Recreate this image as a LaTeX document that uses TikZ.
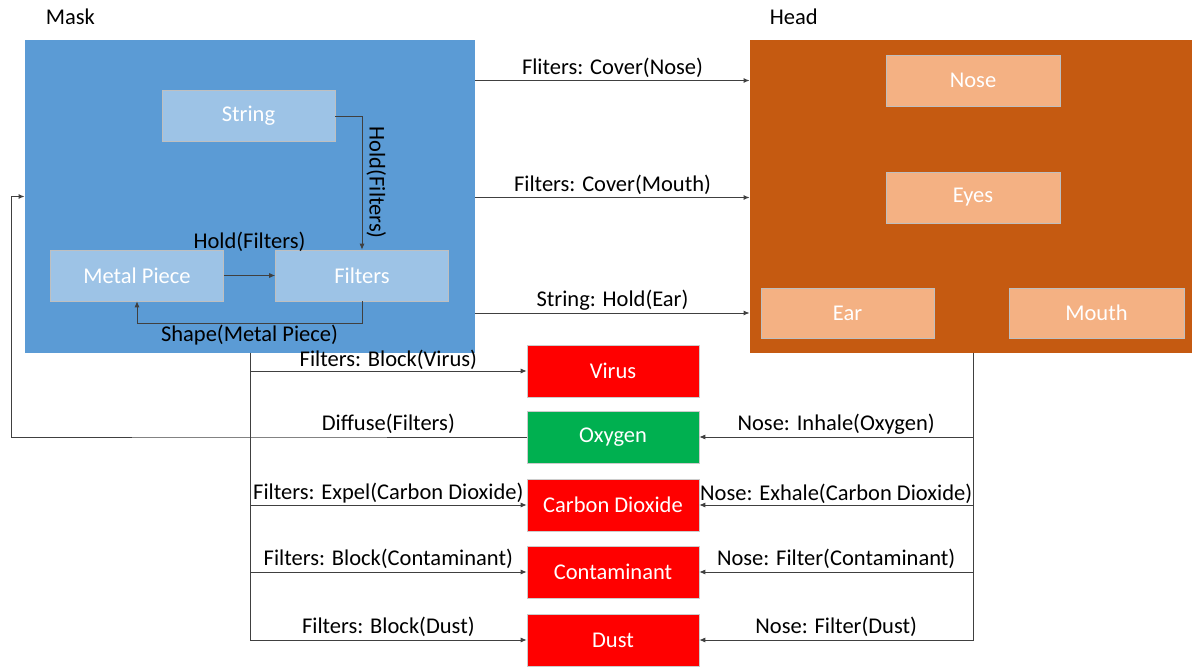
\documentclass[tikz,border=0pt]{standalone}
\usepackage{fontspec}
\setmainfont{Carlito}
\usetikzlibrary{arrows.meta}

\definecolor{maskblue}{HTML}{5B9BD5}
\definecolor{partblue}{HTML}{9DC3E6}
\definecolor{headbrown}{HTML}{C55A11}
\definecolor{partpeach}{HTML}{F4B183}
\definecolor{badred}{HTML}{FF0000}
\definecolor{goodgreen}{HTML}{00B050}
\definecolor{linegray}{HTML}{404040}

\begin{document}
\begin{tikzpicture}[x=1pt, y=-1pt, line width=0.9pt, font=\fontsize{22.5}{26}\selectfont,
    whole/.style={inner sep=0pt},
    part/.style={draw=black!25, line width=0.6pt, text=white, inner sep=0pt, minimum width=173, minimum height=51},
    thing/.style={draw=black!20, line width=0.6pt, text=white, inner sep=0pt, minimum width=172, minimum height=52},
    link/.style={draw=linegray, -{Latex[length=6pt,width=5pt]}},
    lbl/.style={inner sep=2.5pt}]
    \useasboundingbox (0,0) rectangle (1192,668);

    % draw mask and its parts
    \node[right] (masktitle) at (42,17) {Mask};
    \node[whole, fill=maskblue, minimum width=450, minimum height=313] (mask) at (250,196.5) {};
    \node[part, fill=partblue] (string) at (248.5,116) {String};
    \node[part, fill=partblue] (metal) at (137,275.5) {Metal Piece};
    \node[part, fill=partblue] (filters) at (362,275.5) {Filters};

    % draw head and its parts
    \node[right] (headtitle) at (766,17) {Head};
    \node[whole, fill=headbrown, minimum width=442, minimum height=313] (head) at (971,196.5) {};
    \node[part, fill=partpeach, minimum width=174] (nose) at (973,80.5) {Nose};
    \node[part, fill=partpeach, minimum width=174] (eyes) at (973,197.5) {Eyes};
    \node[part, fill=partpeach, minimum height=50] (ear) at (847.5,313) {Ear};
    \node[part, fill=partpeach, minimum width=175, minimum height=50] (mouth) at (1096.5,313) {Mouth};

    % draw things in the air
    \node[thing, fill=badred] (virus) at (613,371) {Virus};
    \node[thing, fill=goodgreen] (oxygen) at (613,437) {Oxygen};
    \node[thing, fill=badred] (carbon) at (613,505) {Carbon Dioxide};
    \node[thing, fill=badred] (contam) at (613,572) {Contaminant};
    \node[thing, fill=badred] (dust) at (613,640) {Dust};

    \coordinate (masktrunk) at (250,353);
    \coordinate (headtrunk) at (973,353);
    \coordinate (diffleft) at (11,196.5);

    % links inside the mask
    \draw[link] (string.east) -| node[lbl, pos=0.75, sloped, above, inner sep=4pt] {Hold(Filters)} (filters.north);
    \draw[link] (metal.east) -- node[lbl, above=21pt] {Hold(Filters)} (filters.west);
    \draw[link] (filters.south) -- ++(0,22) -| node[lbl, pos=0.25, below, inner sep=1pt] {Shape(Metal Piece)} (metal.south);

    % links from mask to head
    \draw[link] (mask.east |- nose) -- node[lbl, above] {Fliters: Cover(Nose)} (head.west |- nose);
    \draw[link] (mask.east |- eyes) -- node[lbl, above] {Filters: Cover(Mouth)} (head.west |- eyes);
    \draw[link] (mask.east |- ear) -- node[lbl, above] {String: Hold(Ear)} (head.west |- ear);

    % links from the mask
    \draw[link] (masktrunk) |- node[lbl, pos=0.75, above, inner sep=1pt] {Filters: Block(Virus)} (virus.west);
    \draw[link] (masktrunk) |- node[lbl, pos=0.75, above, inner sep=1pt] {Filters: Expel(Carbon Dioxide)} (carbon.west);
    \draw[link] (masktrunk) |- node[lbl, pos=0.75, above] {Filters: Block(Contaminant)} (contam.west);
    \draw[link] (masktrunk) |- node[lbl, pos=0.75, above] {Filters: Block(Dust)} (dust.west);
    \draw[link] (oxygen.west) -- node[lbl, above] {Diffuse(Filters)} (oxygen.west -| masktrunk) -| (diffleft) -- (mask.west);

    % links from the head
    \draw[link] (headtrunk) |- node[lbl, pos=0.75, above] {Nose: Inhale(Oxygen)} (oxygen.east);
    \draw[link] (headtrunk) |- node[lbl, pos=0.75, above, inner sep=1pt] {Nose: Exhale(Carbon Dioxide)} (carbon.east);
    \draw[link] (headtrunk) |- node[lbl, pos=0.75, above] {Nose: Filter(Contaminant)} (contam.east);
    \draw[link] (headtrunk) |- node[lbl, pos=0.75, above] {Nose: Filter(Dust)} (dust.east);
\end{tikzpicture}
\end{document}
